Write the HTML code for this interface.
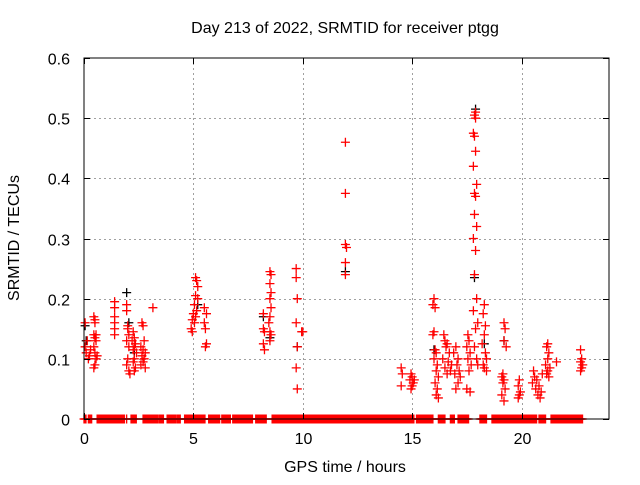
<!DOCTYPE html>
<html><head><meta charset="utf-8"><style>
body{margin:0;background:#fff}
svg text{font-family:"Liberation Sans",sans-serif;font-size:16px;fill:#000}
</style></head><body>
<svg id="chart" width="640" height="480" viewBox="0 0 640 480" xmlns="http://www.w3.org/2000/svg">
<rect width="640" height="480" fill="#fff"/>
<g id="grid"></g>
<g id="black"></g>
<g id="red"></g>
<rect x="84" y="58" width="525" height="361" fill="none" stroke="#000" stroke-width="1"/>
<g id="ticks"></g>
<text x="345" y="33" text-anchor="middle">Day 213 of 2022, SRMTID for receiver ptgg</text>
<text x="345" y="472" text-anchor="middle">GPS time / hours</text>
<text transform="translate(19,238) rotate(-90)" text-anchor="middle">SRMTID / TECUs</text>
</svg>
<script>
const xTicks=[0,5,10,15,20];
const yTicks=[0,0.1,0.2,0.3,0.4,0.5,0.6];
const yTickLabels=["0","0.1","0.2","0.3","0.4","0.5","0.6"];
const redHours=[0.05,0.05,0.1,0.15,0.2,0.25,0.3,
0.45,0.5,0.5,0.45,0.5,0.55,0.45,0.5,0.55,0.5,0.45,0.55,0.6,
1.4,1.4,1.4,1.4,1.4,1.4,
1.95,1.95,2.0,2.0,2.05,1.95,2.05,2.0,1.95,2.05,2.1,
2.25,2.3,2.2,2.35,2.3,2.25,2.4,2.3,2.25,2.35,2.3,
2.65,2.7,2.75,2.6,2.7,2.8,2.65,2.75,2.7,2.6,2.8,
3.15,
5.1,5.15,5.2,5.1,5.2,5.05,5.15,5.0,5.1,4.95,5.05,4.9,4.95,
5.5,5.6,5.5,5.55,5.6,5.55,
8.2,8.2,8.25,8.2,8.25,
8.5,8.55,8.5,8.55,8.5,8.55,8.5,8.45,8.5,8.55,8.5,
9.7,9.7,9.75,9.7,9.75,9.7,9.75,
9.95,10.0,
11.95,11.95,11.95,12.0,11.95,11.95,
14.5,14.55,14.5,
14.95,15.0,14.9,15.05,15.0,14.95,15.1,
16.0,15.95,16.05,16.0,15.95,16.05,16.1,16.0,16.15,16.1,16.2,16.05,16.15,16.1,16.2,
16.45,16.5,16.6,16.55,16.7,16.4,16.65,16.8,16.5,16.75,16.6,
17.0,16.9,17.1,17.05,17.15,16.95,17.2,17.1,17.0,
17.55,17.6,17.5,17.65,17.55,17.7,17.6,17.5,17.65,
17.9,17.85,17.9,17.8,17.85,17.9,17.8,17.95,17.85,17.9,17.85,17.95,17.8,17.9,17.85,17.95,17.8,18.0,17.9,17.85,17.95,18.0,
18.3,18.25,18.35,18.3,18.2,18.35,18.4,18.25,18.3,18.4,
19.2,19.25,19.2,19.3,19.15,19.1,19.2,19.15,19.25,19.1,19.2,
19.9,19.85,19.95,19.9,19.85,
20.6,20.7,20.5,20.8,20.65,20.9,20.75,20.85,20.55,20.95,
21.2,21.15,21.25,21.2,21.1,21.3,21.2,21.15,21.25,
21.6,
22.7,22.75,22.7,22.8,22.75,22.7];
const redValues=[0.16,0.12,0.11,0.13,0.10,0.105,0.115,
0.17,0.165,0.16,0.14,0.135,0.13,0.12,0.11,0.10,0.09,0.085,0.14,0.105,
0.195,0.185,0.17,0.16,0.15,0.14,
0.19,0.18,0.155,0.15,0.14,0.13,0.12,0.10,0.09,0.08,0.075,
0.145,0.135,0.13,0.125,0.12,0.115,0.11,0.10,0.095,0.085,0.08,
0.16,0.155,0.13,0.12,0.115,0.11,0.105,0.10,0.095,0.09,0.085,
0.185,
0.235,0.23,0.22,0.205,0.20,0.19,0.18,0.175,0.17,0.165,0.16,0.15,0.145,
0.185,0.175,0.16,0.15,0.125,0.12,
0.175,0.15,0.145,0.125,0.115,
0.245,0.24,0.225,0.21,0.20,0.185,0.17,0.16,0.145,0.14,0.13,
0.25,0.235,0.20,0.16,0.12,0.085,0.05,
0.145,0.145,
0.46,0.375,0.29,0.285,0.26,0.24,
0.085,0.075,0.055,
0.075,0.07,0.065,0.06,0.055,0.05,0.065,
0.20,0.19,0.185,0.145,0.14,0.115,0.11,0.10,0.09,0.08,0.07,0.06,0.05,0.04,0.035,
0.14,0.13,0.125,0.12,0.11,0.10,0.095,0.09,0.085,0.08,0.075,
0.12,0.11,0.10,0.09,0.08,0.075,0.07,0.06,0.05,
0.14,0.13,0.12,0.11,0.10,0.09,0.08,0.05,0.045,
0.51,0.505,0.50,0.475,0.47,0.445,0.42,0.39,0.375,0.37,0.34,0.32,0.30,0.28,0.24,0.20,0.18,0.16,0.15,0.12,0.10,0.09,
0.19,0.175,0.155,0.14,0.125,0.11,0.10,0.09,0.085,0.08,
0.16,0.15,0.13,0.12,0.075,0.07,0.065,0.06,0.05,0.04,0.03,
0.065,0.055,0.045,0.04,0.035,
0.07,0.065,0.06,0.055,0.05,0.045,0.04,0.035,0.08,0.075,
0.125,0.12,0.11,0.10,0.09,0.085,0.08,0.075,0.07,
0.095,
0.115,0.10,0.095,0.09,0.085,0.08];
const blackHours=[0.05,0.1,1.95,2.05,2.3,5.2,8.2,8.5,9.75,11.95,16.0,17.9,17.85,18.3,19.2];
const blackValues=[0.155,0.13,0.21,0.16,0.11,0.19,0.17,0.135,0.12,0.245,0.115,0.515,0.235,0.125,0.13];
const zeroSegStart=[0,0.2,0.6,1.4,1.95,2.15,2.7,3.45,3.8,4.25,4.6,5.7,5.9,6.3,6.8,7.85,8.6,15.2,16.2,16.75,17.1,18.1,18.65,20.8,21.35];
const zeroSegEnd=[0.1,0.35,1.35,1.85,1.95,2.4,3.4,3.65,4.2,4.4,5.55,5.85,6.2,6.7,7.7,8.35,15.1,15.95,16.5,16.95,17.6,18.4,20.7,21.1,22.8];
const NS="http://www.w3.org/2000/svg";
const X0=84,X1=609,Y0=419,Y1=58,XMAX=24,YMAX=0.6;
function xs(h){return X0+(h/XMAX)*(X1-X0);}
function ys(v){return Y0-(v/YMAX)*(Y0-Y1);}
const grid=document.getElementById('grid'),ticks=document.getElementById('ticks');
function line(p,x1,y1,x2,y2,st,dash){const l=document.createElementNS(NS,'line');l.setAttribute('x1',x1);l.setAttribute('y1',y1);l.setAttribute('x2',x2);l.setAttribute('y2',y2);l.setAttribute('stroke',st);l.setAttribute('stroke-width',1);if(dash)l.setAttribute('stroke-dasharray',dash);p.appendChild(l);return l;}
xTicks.forEach(t=>{const x=Math.round(xs(t))+0.5;
 if(t>0){const g=line(grid,x,Y1,x,Y0,'#a0a0a0','2,3');
 
 }
 const a=line(ticks,x,Y0,x,Y0-6,'#000');
 
 
 const b=line(ticks,x,Y1,x,Y1+6,'#000');
 
 
 const tx=document.createElementNS(NS,'text');tx.setAttribute('x',x);tx.setAttribute('y',444);tx.setAttribute('text-anchor','middle');tx.textContent=String(t);
 
 
 ticks.appendChild(tx);});
yTicks.forEach((t,i)=>{const y=Math.round(ys(t))+0.5;
 if(t>0&&t<YMAX){const g=line(grid,X0,y,X1,y,'#a0a0a0','2,3');
 
 }
 const a=line(ticks,X0,y,X0+6,y,'#000');
 
 
 const b=line(ticks,X1,y,X1-6,y,'#000');
 
 
 const tx=document.createElementNS(NS,'text');tx.setAttribute('x',70);tx.setAttribute('y',y+6);tx.setAttribute('text-anchor','end');tx.textContent=yTickLabels[i];
 
 
 ticks.appendChild(tx);});
function plus(p,h,v,col,name){const x=xs(h),y=ys(v),r=4.5;
 const pa=document.createElementNS(NS,'path');
 pa.setAttribute('d',`M${x-r} ${y}H${x+r}M${x} ${y-r}V${y+r}`);
 pa.setAttribute('stroke',col);pa.setAttribute('stroke-width',1.3);pa.setAttribute('fill','none');
 
 
 p.appendChild(pa);}
const bg=document.getElementById('black'),rg=document.getElementById('red');
blackHours.forEach((h,i)=>plus(bg,h,blackValues[i],'#000','black-point'));
redHours.forEach((h,i)=>plus(rg,h,redValues[i],'#ff0000','red-point'));
zeroSegStart.forEach((s,i)=>{for(let h=s;h<=zeroSegEnd[i]+1e-9;h+=0.03)plus(rg,h,0,'#ff0000','zero-point');});
</script>
</body></html>
